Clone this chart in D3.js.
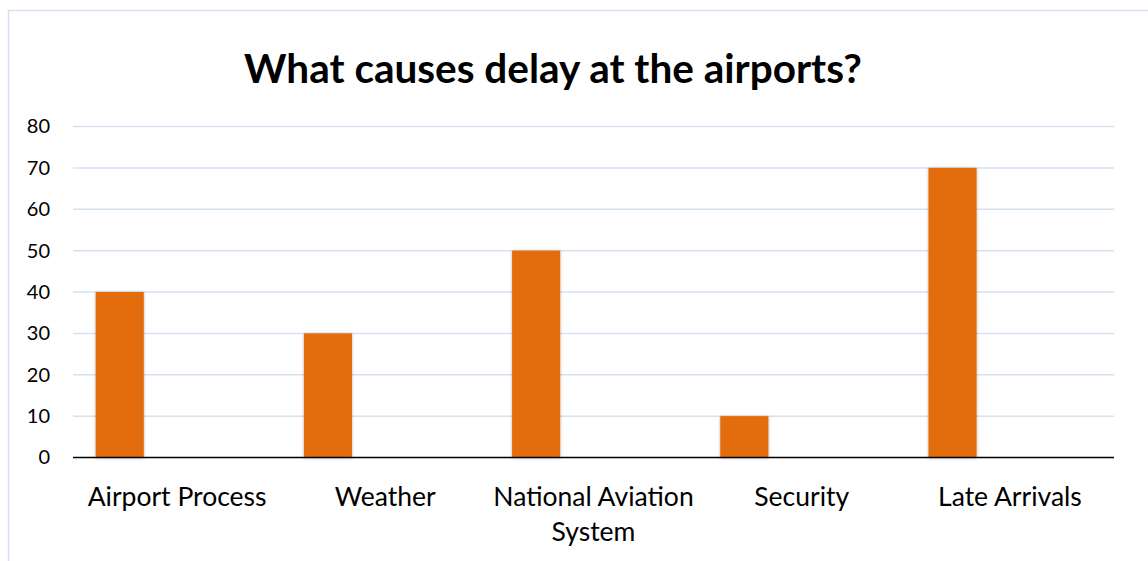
<!DOCTYPE html>
<html>
<head>
<meta charset="utf-8">
<script src="https://cdn.jsdelivr.net/npm/d3@7"></script>
<style>
  body { margin: 0; background: #fff; }
  svg { display: block; font-family: Lato, "Open Sans", sans-serif; }
</style>
</head>
<body>
<div id="chart"></div>
<script>
var categories = ["Airport Process", "Weather", "National Aviation System", "Security", "Late Arrivals"];
var delays = [40, 30, 50, 10, 70];
var yTicks = [0, 10, 20, 30, 40, 50, 60, 70, 80];
var chartTitle = "What causes delay at the airports?";

var W = 1148, H = 561;
var margin = {top: 126.5, right: 34, bottom: 103.5, left: 73};
var width = W - margin.left - margin.right,
    height = H - margin.top - margin.bottom;

var svg = d3.select("#chart").append("svg")
  .attr("width", W)
  .attr("height", H);

// drop shadow for the bars
var defs = svg.append("defs");
var f = defs.append("filter").attr("id", "shadow")
  .attr("x", "-20%").attr("y", "-5%").attr("width", "140%").attr("height", "110%");
f.append("feDropShadow")
  .attr("dx", 0).attr("dy", 0.5)
  .attr("stdDeviation", 1.5)
  .attr("flood-color", "#000")
  .attr("flood-opacity", 0.3);

// chart border
svg.append("rect")
  .attr("x", 8.5).attr("y", 10.5)
  .attr("width", W + 10).attr("height", H + 10)
  .attr("fill", "none")
  .attr("stroke", "#d5e1f1")
  .attr("stroke-width", 1.5);

svg.append("text")
  .attr("x", 553)
  .attr("y", 83)
  .attr("text-anchor", "middle")
  .style("font-weight", "bold")
  .style("font-size", "40.5px")
  .style("fill", "#000")
  .text(chartTitle);

var g = svg.append("g")
  .attr("transform", "translate(" + margin.left + "," + margin.top + ")");

var x = d3.scaleBand()
  .domain(categories)
  .range([0, width]);

var y = d3.scaleLinear()
  .domain([0, 80])
  .range([height, 0]);

// gridlines
g.append("g")
  .selectAll("line")
  .data(yTicks.filter(function(d){ return d > 0; }))
  .enter().append("line")
    .attr("x1", 0)
    .attr("x2", width)
    .attr("y1", function(d){ return y(d); })
    .attr("y2", function(d){ return y(d); })
    .attr("stroke", "#d5e1f1")
    .attr("stroke-width", 1.5);

// y labels
var yAxis = d3.axisLeft(y)
  .tickValues(yTicks)
  .tickSize(0)
  .tickPadding(23);
var yG = g.append("g").call(yAxis);
yG.select(".domain").remove();
yG.selectAll("text")
  .style("font-family", "Lato, sans-serif")
  .style("font-size", "20px")
  .style("fill", "#000");

// bars
var barOffset = x.bandwidth() * 0.109,
    barWidth = x.bandwidth() * 0.231;

g.append("g")
  .selectAll("rect")
  .data(delays)
  .enter().append("rect")
    .attr("x", function(d, i){ return x(categories[i]) + barOffset; })
    .attr("y", function(d){ return y(d); })
    .attr("width", barWidth)
    .attr("height", function(d){ return height - y(d); })
    .attr("fill", "#e36c0a")
    .attr("filter", "url(#shadow)");

// baseline
g.append("line")
  .attr("x1", 0).attr("x2", width)
  .attr("y1", height).attr("y2", height)
  .attr("stroke", "#000")
  .attr("stroke-width", 1.5);

// category labels, wrapped like Excel does
var xAxis = d3.axisBottom(x).tickSize(0).tickPadding(0);
var xG = g.append("g")
  .attr("transform", "translate(0," + height + ")")
  .call(xAxis);
xG.select(".domain").remove();
xG.selectAll("text")
  .style("font-family", "Lato, sans-serif")
  .style("font-size", "26.5px")
  .style("fill", "#000")
  .attr("y", 0)
  .attr("dy", 0)
  .each(function(d){
    var t = d3.select(this);
    var words = d.split(" ");
    var lines = [], line = [];
    t.text(null);
    var tmp = t.append("tspan");
    words.forEach(function(w){
      line.push(w);
      tmp.text(line.join(" "));
      if (tmp.node().getComputedTextLength() > x.bandwidth() + 4 && line.length > 1) {
        line.pop();
        lines.push(line.join(" "));
        line = [w];
      }
    });
    lines.push(line.join(" "));
    tmp.remove();
    lines.forEach(function(l, k){
      t.append("tspan")
        .attr("x", 0)
        .attr("y", 48 + k * 35)
        .text(l);
    });
  });
</script>
</body>
</html>
